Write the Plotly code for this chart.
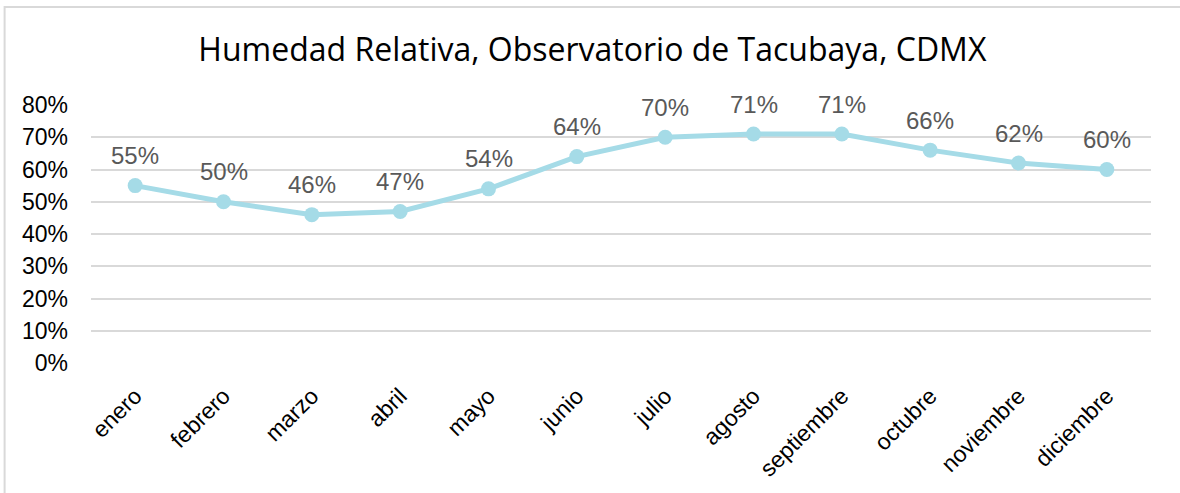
import plotly.graph_objects as go

meses = ["enero", "febrero", "marzo", "abril", "mayo", "junio", "julio",
         "agosto", "septiembre", "octubre", "noviembre", "diciembre"]
humedad = [0.55, 0.50, 0.46, 0.47, 0.54, 0.64, 0.70, 0.71, 0.71, 0.66, 0.62, 0.60]
ticks_y = [0, 0.1, 0.2, 0.3, 0.4, 0.5, 0.6, 0.7, 0.8]

LINEA = "#A5DBE7"
FUENTE = "Liberation Sans, Arial"

fig = go.Figure()
fig.add_trace(go.Scatter(
    x=meses, y=humedad, mode="lines+markers",
    line=dict(color=LINEA, width=5),
    marker=dict(color=LINEA, size=15),
))

# etiquetas de datos, un poco por encima de cada punto
for mes, v in zip(meses, humedad):
    fig.add_annotation(x=mes, y=v, text=f"{v:.0%}", showarrow=False,
                       yshift=30, font=dict(family=FUENTE, size=24, color="#595959"))

# marco gris del gráfico (solo se ven los lados superior e izquierdo)
fig.add_shape(type="rect", xref="paper", yref="paper",
              x0=-0.0815, x1=1.1, y0=-0.6, y1=1.38,
              line=dict(color="#D9D9D9", width=2), layer="above")

fig.update_layout(
    width=1180, height=493,
    margin=dict(l=91, r=29, t=105, b=130, autoexpand=False),
    plot_bgcolor="white", paper_bgcolor="white",
    showlegend=False,
    title=dict(text="Humedad Relativa, Observatorio de Tacubaya, CDMX",
               x=0.502, xanchor="center", y=0.9, yanchor="middle",
               font=dict(family="Open Sans", size=32, color="#000000")),
    xaxis=dict(range=[-0.5, len(meses) - 0.5], tickangle=-45,
               showgrid=False, showline=False, ticks="",
               automargin=False, ticklabelstandoff=14,
               tickfont=dict(family=FUENTE, size=23, color="#000000")),
    yaxis=dict(range=[0, 0.8], tickvals=ticks_y, tickformat=".0%",
               gridcolor="#D9D9D9", gridwidth=2, zeroline=False,
               showline=False, ticks="", ticklabelstandoff=22,
               automargin=False,
               tickfont=dict(family=FUENTE, size=23, color="#000000")),
)

fig.write_html("out.html", config={"displayModeBar": False},
               post_script="document.body.style.margin='0';")
